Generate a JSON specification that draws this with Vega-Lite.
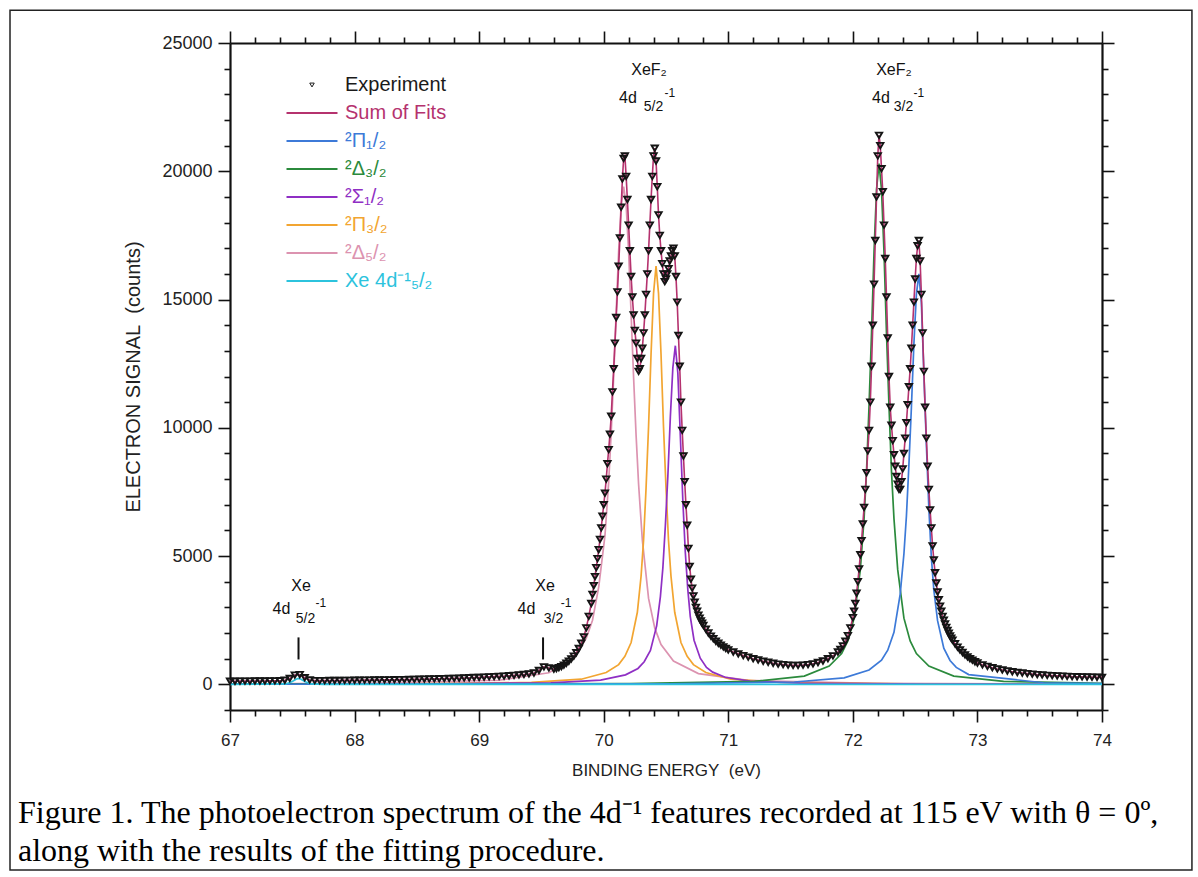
{
"$schema":"https://vega.github.io/schema/vega-lite/v6.json",
"width":872,"height":667,
"autosize":{"type":"none"},
"padding":{"left":230,"top":43,"right":96,"bottom":167},
"background":"white",
"config":{"view":{"stroke":null},"font":"Liberation Sans"},
"title":{"text":["Figure 1. The photoelectron spectrum of the 4d\u207b\u00b9 features recorded at 115 eV with \u03b8 = 0\u00ba,","along with the results of the fitting procedure."],"orient":"bottom","anchor":"start","frame":"group","font":"Liberation Serif","fontSize":32,"fontWeight":"normal","color":"black","lineHeight":38,"dx":-212,"dy":-87,"offset":14},
"datasets":{
"exp":[
{"x":67.00,"y":120},{"x":67.04,"y":120},{"x":67.08,"y":125},{"x":67.12,"y":125},{"x":67.16,"y":125},{"x":67.20,"y":130},{"x":67.24,"y":130},{"x":67.28,"y":130},{"x":67.32,"y":135},{"x":67.36,"y":135},{"x":67.40,"y":140},{"x":67.44,"y":160},{"x":67.48,"y":230},{"x":67.52,"y":360},{"x":67.56,"y":380},{"x":67.60,"y":260},{"x":67.64,"y":170},{"x":67.68,"y":145},{"x":67.72,"y":145},{"x":67.76,"y":145},{"x":67.80,"y":150},{"x":67.84,"y":150},{"x":67.88,"y":150},{"x":67.92,"y":155},{"x":67.96,"y":155},{"x":68.00,"y":160},{"x":68.04,"y":160},{"x":68.08,"y":165},{"x":68.12,"y":165},{"x":68.16,"y":170},{"x":68.20,"y":170},{"x":68.24,"y":175},{"x":68.28,"y":175},{"x":68.32,"y":180},{"x":68.36,"y":185},{"x":68.40,"y":185},{"x":68.44,"y":190},{"x":68.48,"y":195},{"x":68.52,"y":200},{"x":68.56,"y":205},{"x":68.60,"y":210},{"x":68.64,"y":215},{"x":68.68,"y":220},{"x":68.72,"y":225},{"x":68.76,"y":230},{"x":68.80,"y":235},{"x":68.84,"y":240},{"x":68.88,"y":250},{"x":68.92,"y":255},{"x":68.96,"y":265},{"x":69.00,"y":270},{"x":69.04,"y":280},{"x":69.08,"y":290},{"x":69.12,"y":300},{"x":69.16,"y":310},{"x":69.20,"y":320},{"x":69.24,"y":335},{"x":69.28,"y":350},{"x":69.32,"y":365},{"x":69.36,"y":385},{"x":69.40,"y":405},{"x":69.44,"y":440},{"x":69.48,"y":540},{"x":69.52,"y":680},{"x":69.56,"y":640},{"x":69.60,"y":590},
{"x":69.62,"y":615},{"x":69.64,"y":650},{"x":69.66,"y":690},{"x":69.68,"y":750},{"x":69.70,"y":820},{"x":69.72,"y":900},{"x":69.74,"y":990},{"x":69.76,"y":1100},{"x":69.78,"y":1230},{"x":69.80,"y":1400},{"x":69.82,"y":1600},{"x":69.84,"y":1850},{"x":69.86,"y":2200},{"x":69.88,"y":2650},{"x":69.90,"y":3150},
{"x":69.91,"y":3500},{"x":69.92,"y":3850},{"x":69.93,"y":4200},{"x":69.94,"y":4550},{"x":69.95,"y":4900},{"x":69.96,"y":5250},{"x":69.97,"y":5650},{"x":69.98,"y":6100},{"x":69.99,"y":6550},{"x":70.00,"y":7000},{"x":70.01,"y":7450},{"x":70.02,"y":8000},{"x":70.03,"y":8600},{"x":70.04,"y":9150},{"x":70.05,"y":9750},{"x":70.06,"y":10450},{"x":70.07,"y":11400},{"x":70.08,"y":12300},{"x":70.09,"y":13300},{"x":70.10,"y":14300},{"x":70.11,"y":15300},{"x":70.12,"y":16300},{"x":70.13,"y":17400},{"x":70.14,"y":18600},{"x":70.15,"y":19700},{"x":70.16,"y":20500},{"x":70.17,"y":20600},{"x":70.18,"y":19800},{"x":70.19,"y":18900},{"x":70.20,"y":17900},{"x":70.21,"y":16900},{"x":70.22,"y":15900},{"x":70.23,"y":15100},{"x":70.24,"y":14400},{"x":70.25,"y":13800},{"x":70.26,"y":13300},{"x":70.27,"y":12700},{"x":70.28,"y":12200},{"x":70.29,"y":12300},{"x":70.30,"y":12700},{"x":70.31,"y":13100},{"x":70.32,"y":13700},{"x":70.33,"y":14400},{"x":70.34,"y":15200},{"x":70.35,"y":16000},{"x":70.36,"y":16900},{"x":70.37,"y":17900},{"x":70.38,"y":18900},{"x":70.39,"y":19800},{"x":70.40,"y":20600},{"x":70.41,"y":20900},{"x":70.42,"y":20400},{"x":70.43,"y":19400},{"x":70.44,"y":18300},{"x":70.45,"y":17500},{"x":70.46,"y":16900},{"x":70.47,"y":16400},{"x":70.48,"y":16000},{"x":70.49,"y":15700},{"x":70.50,"y":15800},{"x":70.51,"y":16000},{"x":70.52,"y":16200},{"x":70.53,"y":16500},{"x":70.54,"y":16700},{"x":70.55,"y":16900},{"x":70.56,"y":17000},{"x":70.57,"y":16700},{"x":70.58,"y":15900},{"x":70.59,"y":14900},{"x":70.60,"y":13600},{"x":70.61,"y":12400},{"x":70.62,"y":11000},{"x":70.63,"y":9900},{"x":70.64,"y":8900},{"x":70.65,"y":7900},{"x":70.66,"y":7000},{"x":70.67,"y":6200},{"x":70.68,"y":5300},{"x":70.69,"y":4600},{"x":70.70,"y":4100},{"x":70.71,"y":3750},{"x":70.72,"y":3450},{"x":70.73,"y":3200},{"x":70.74,"y":3000},{"x":70.75,"y":2850},{"x":70.76,"y":2700},{"x":70.77,"y":2580},{"x":70.78,"y":2470},{"x":70.79,"y":2380},{"x":70.80,"y":2300},
{"x":70.82,"y":2150},{"x":70.84,"y":2000},{"x":70.86,"y":1880},{"x":70.88,"y":1780},{"x":70.90,"y":1680},{"x":70.92,"y":1600},{"x":70.94,"y":1530},{"x":70.96,"y":1460},{"x":70.98,"y":1400},{"x":71.00,"y":1340},
{"x":71.04,"y":1260},{"x":71.08,"y":1190},{"x":71.12,"y":1120},{"x":71.16,"y":1060},{"x":71.20,"y":1000},{"x":71.24,"y":950},{"x":71.28,"y":900},{"x":71.32,"y":860},{"x":71.36,"y":820},{"x":71.40,"y":790},{"x":71.44,"y":770},{"x":71.48,"y":750},{"x":71.52,"y":740},{"x":71.56,"y":740},{"x":71.60,"y":750},{"x":71.64,"y":770},{"x":71.68,"y":800},{"x":71.72,"y":850},{"x":71.76,"y":910},{"x":71.80,"y":1000},{"x":71.84,"y":1110},{"x":71.88,"y":1260},
{"x":71.90,"y":1360},{"x":71.92,"y":1500},{"x":71.94,"y":1680},{"x":71.96,"y":1900},{"x":71.98,"y":2200},{"x":72.00,"y":2600},
{"x":72.01,"y":2850},{"x":72.02,"y":3150},{"x":72.03,"y":3550},{"x":72.04,"y":4000},{"x":72.05,"y":4500},{"x":72.06,"y":5050},{"x":72.07,"y":5600},{"x":72.08,"y":6250},{"x":72.09,"y":6900},{"x":72.10,"y":7600},{"x":72.11,"y":8250},{"x":72.12,"y":9100},{"x":72.13,"y":9900},{"x":72.14,"y":11000},{"x":72.15,"y":12400},{"x":72.16,"y":14000},{"x":72.17,"y":15600},{"x":72.18,"y":17300},{"x":72.19,"y":19000},{"x":72.20,"y":20600},{"x":72.21,"y":21400},{"x":72.22,"y":21000},{"x":72.23,"y":20100},{"x":72.24,"y":19200},{"x":72.25,"y":17900},{"x":72.26,"y":16600},{"x":72.27,"y":15100},{"x":72.28,"y":13500},{"x":72.29,"y":12000},{"x":72.30,"y":10800},{"x":72.31,"y":10100},{"x":72.32,"y":9500},{"x":72.33,"y":8950},{"x":72.34,"y":8500},{"x":72.35,"y":8100},{"x":72.36,"y":7800},{"x":72.37,"y":7600},{"x":72.38,"y":7600},{"x":72.39,"y":7900},{"x":72.40,"y":8400},{"x":72.41,"y":9000},{"x":72.42,"y":9600},{"x":72.43,"y":10200},{"x":72.44,"y":10900},{"x":72.45,"y":11600},{"x":72.46,"y":12300},{"x":72.47,"y":13100},{"x":72.48,"y":14000},{"x":72.49,"y":14900},{"x":72.50,"y":15800},{"x":72.51,"y":16600},{"x":72.52,"y":17100},{"x":72.53,"y":17300},{"x":72.54,"y":16500},{"x":72.55,"y":15200},{"x":72.56,"y":13700},{"x":72.57,"y":12200},{"x":72.58,"y":10800},{"x":72.59,"y":9600},{"x":72.60,"y":8500},{"x":72.61,"y":7600},{"x":72.62,"y":6800},{"x":72.63,"y":6100},{"x":72.64,"y":5400},{"x":72.65,"y":4850},{"x":72.66,"y":4350},{"x":72.67,"y":3950},{"x":72.68,"y":3600},{"x":72.69,"y":3300},{"x":72.70,"y":3050},{"x":72.71,"y":2850},{"x":72.72,"y":2650},{"x":72.73,"y":2500},{"x":72.74,"y":2350},{"x":72.75,"y":2220},{"x":72.76,"y":2100},{"x":72.77,"y":1990},{"x":72.78,"y":1890},{"x":72.79,"y":1800},{"x":72.80,"y":1720},
{"x":72.82,"y":1580},{"x":72.84,"y":1450},{"x":72.86,"y":1340},{"x":72.88,"y":1240},{"x":72.90,"y":1150},{"x":72.92,"y":1070},{"x":72.94,"y":1000},{"x":72.96,"y":940},{"x":72.98,"y":880},{"x":73.00,"y":830},
{"x":73.04,"y":760},{"x":73.08,"y":700},{"x":73.12,"y":650},{"x":73.16,"y":600},{"x":73.20,"y":560},{"x":73.24,"y":520},{"x":73.28,"y":490},{"x":73.32,"y":460},{"x":73.36,"y":440},{"x":73.40,"y":420},{"x":73.44,"y":400},{"x":73.48,"y":380},{"x":73.52,"y":365},{"x":73.56,"y":350},{"x":73.60,"y":340},{"x":73.64,"y":330},{"x":73.68,"y":320},{"x":73.72,"y":310},{"x":73.76,"y":300},{"x":73.80,"y":295},{"x":73.84,"y":290},{"x":73.88,"y":285},{"x":73.92,"y":280},{"x":73.96,"y":275},{"x":74.00,"y":270}
],
"comp":[
{"s":"D52","x":67.0,"y":18},{"s":"D52","x":68.16,"y":45},{"s":"D52","x":69.16,"y":160},{"s":"D52","x":69.56,"y":450},{"s":"D52","x":69.76,"y":1000},{"s":"D52","x":69.86,"y":1800},{"s":"D52","x":69.91,"y":2500},{"s":"D52","x":69.96,"y":3800},{"s":"D52","x":70.01,"y":5800},{"s":"D52","x":70.04,"y":7900},{"s":"D52","x":70.06,"y":9800},{"s":"D52","x":70.08,"y":12000},{"s":"D52","x":70.10,"y":14500},{"s":"D52","x":70.12,"y":16900},{"s":"D52","x":70.14,"y":18700},{"s":"D52","x":70.16,"y":19400},{"s":"D52","x":70.18,"y":18700},{"s":"D52","x":70.20,"y":16860},{"s":"D52","x":70.22,"y":14430},{"s":"D52","x":70.24,"y":11950},{"s":"D52","x":70.26,"y":9700},{"s":"D52","x":70.28,"y":7800},{"s":"D52","x":70.31,"y":5630},{"s":"D52","x":70.36,"y":3350},{"s":"D52","x":70.41,"y":2190},{"s":"D52","x":70.46,"y":1550},{"s":"D52","x":70.56,"y":910},{"s":"D52","x":70.76,"y":420},{"s":"D52","x":71.16,"y":153},{"s":"D52","x":72.16,"y":39},{"s":"D52","x":74.0,"y":11},
{"s":"P32","x":67.0,"y":6},{"s":"P32","x":68.42,"y":18},{"s":"P32","x":69.42,"y":73},{"s":"P32","x":69.82,"y":200},{"s":"P32","x":70.02,"y":460},{"s":"P32","x":70.12,"y":770},{"s":"P32","x":70.17,"y":1090},{"s":"P32","x":70.22,"y":1630},{"s":"P32","x":70.27,"y":2810},{"s":"P32","x":70.30,"y":4220},{"s":"P32","x":70.32,"y":5620},{"s":"P32","x":70.34,"y":7660},{"s":"P32","x":70.36,"y":10040},{"s":"P32","x":70.38,"y":12880},{"s":"P32","x":70.40,"y":15240},{"s":"P32","x":70.42,"y":16300},{"s":"P32","x":70.44,"y":15240},{"s":"P32","x":70.46,"y":12880},{"s":"P32","x":70.48,"y":10040},{"s":"P32","x":70.50,"y":7660},{"s":"P32","x":70.52,"y":5620},{"s":"P32","x":70.54,"y":4220},{"s":"P32","x":70.57,"y":2810},{"s":"P32","x":70.62,"y":1630},{"s":"P32","x":70.67,"y":1090},{"s":"P32","x":70.72,"y":770},{"s":"P32","x":70.82,"y":460},{"s":"P32","x":71.02,"y":200},{"s":"P32","x":71.42,"y":73},{"s":"P32","x":72.42,"y":18},{"s":"P32","x":74.0,"y":6},
{"s":"S12","x":67.0,"y":5},{"s":"S12","x":68.575,"y":15},{"s":"S12","x":69.575,"y":59},{"s":"S12","x":69.975,"y":162},{"s":"S12","x":70.175,"y":370},{"s":"S12","x":70.275,"y":620},{"s":"S12","x":70.325,"y":880},{"s":"S12","x":70.375,"y":1320},{"s":"S12","x":70.425,"y":2280},{"s":"S12","x":70.455,"y":3420},{"s":"S12","x":70.475,"y":4550},{"s":"S12","x":70.495,"y":6200},{"s":"S12","x":70.515,"y":8130},{"s":"S12","x":70.535,"y":10430},{"s":"S12","x":70.555,"y":12340},{"s":"S12","x":70.575,"y":13200},{"s":"S12","x":70.595,"y":12140},{"s":"S12","x":70.615,"y":9700},{"s":"S12","x":70.635,"y":7190},{"s":"S12","x":70.655,"y":5150},{"s":"S12","x":70.675,"y":3700},{"s":"S12","x":70.695,"y":2640},{"s":"S12","x":70.725,"y":1720},{"s":"S12","x":70.775,"y":1020},{"s":"S12","x":70.825,"y":660},{"s":"S12","x":70.875,"y":475},{"s":"S12","x":70.975,"y":277},{"s":"S12","x":71.175,"y":123},{"s":"S12","x":71.575,"y":45},{"s":"S12","x":72.575,"y":11},{"s":"S12","x":74.0,"y":4},
{"s":"D32","x":67.0,"y":4},{"s":"D32","x":70.21,"y":30},{"s":"D32","x":71.21,"y":116},{"s":"D32","x":71.61,"y":320},{"s":"D32","x":71.81,"y":710},{"s":"D32","x":71.91,"y":1200},{"s":"D32","x":71.96,"y":1690},{"s":"D32","x":72.01,"y":2580},{"s":"D32","x":72.06,"y":4470},{"s":"D32","x":72.09,"y":6460},{"s":"D32","x":72.11,"y":8320},{"s":"D32","x":72.13,"y":10860},{"s":"D32","x":72.15,"y":13700},{"s":"D32","x":72.17,"y":16850},{"s":"D32","x":72.19,"y":19290},{"s":"D32","x":72.21,"y":20300},{"s":"D32","x":72.23,"y":19290},{"s":"D32","x":72.25,"y":16850},{"s":"D32","x":72.27,"y":13700},{"s":"D32","x":72.29,"y":10860},{"s":"D32","x":72.31,"y":8320},{"s":"D32","x":72.33,"y":6460},{"s":"D32","x":72.36,"y":4470},{"s":"D32","x":72.41,"y":2580},{"s":"D32","x":72.46,"y":1690},{"s":"D32","x":72.51,"y":1200},{"s":"D32","x":72.61,"y":710},{"s":"D32","x":72.81,"y":320},{"s":"D32","x":73.21,"y":116},{"s":"D32","x":74.0,"y":37},
{"s":"P12","x":67.0,"y":3},{"s":"P12","x":70.53,"y":24},{"s":"P12","x":71.53,"y":91},{"s":"P12","x":71.93,"y":251},{"s":"P12","x":72.13,"y":560},{"s":"P12","x":72.23,"y":944},{"s":"P12","x":72.28,"y":1330},{"s":"P12","x":72.33,"y":2030},{"s":"P12","x":72.38,"y":3520},{"s":"P12","x":72.41,"y":5090},{"s":"P12","x":72.43,"y":6560},{"s":"P12","x":72.45,"y":8560},{"s":"P12","x":72.47,"y":10800},{"s":"P12","x":72.49,"y":13280},{"s":"P12","x":72.51,"y":15200},{"s":"P12","x":72.53,"y":16000},{"s":"P12","x":72.55,"y":14880},{"s":"P12","x":72.57,"y":12160},{"s":"P12","x":72.59,"y":9360},{"s":"P12","x":72.61,"y":6880},{"s":"P12","x":72.63,"y":4960},{"s":"P12","x":72.65,"y":3680},{"s":"P12","x":72.68,"y":2480},{"s":"P12","x":72.73,"y":1410},{"s":"P12","x":72.78,"y":930},{"s":"P12","x":72.83,"y":660},{"s":"P12","x":72.93,"y":380},{"s":"P12","x":73.53,"y":62},{"s":"P12","x":74.0,"y":29},
{"s":"Xe","x":67.0,"y":0},{"s":"Xe","x":67.45,"y":15},{"s":"Xe","x":67.5,"y":110},{"s":"Xe","x":67.53,"y":200},{"s":"Xe","x":67.55,"y":230},{"s":"Xe","x":67.57,"y":200},{"s":"Xe","x":67.6,"y":110},{"s":"Xe","x":67.65,"y":15},{"s":"Xe","x":67.75,"y":0},{"s":"Xe","x":74.0,"y":0}
],
"annMain":[{"x":70.364,"y":23950,"t":"XeF\u2082"},{"x":70.195,"y":22850,"t":"4d"},{"x":72.33,"y":23950,"t":"XeF\u2082"},{"x":72.226,"y":22850,"t":"4d"},{"x":67.57,"y":3815,"t":"Xe"},{"x":67.413,"y":2920,"t":"4d"},{"x":69.529,"y":3815,"t":"Xe"},{"x":69.38,"y":2920,"t":"4d"}],
"annSub":[{"x":70.40,"y":22500,"t":"5/2"},{"x":72.407,"y":22500,"t":"3/2"},{"x":67.606,"y":2530,"t":"5/2"},{"x":69.597,"y":2530,"t":"3/2"}],
"annSup":[{"x":70.53,"y":23050,"t":"-1"},{"x":72.53,"y":23050,"t":"-1"},{"x":67.73,"y":3190,"t":"-1"},{"x":69.697,"y":3190,"t":"-1"}],
"marks":[{"x":67.55,"y":970,"y2":1830},{"x":69.513,"y":970,"y2":1830}]
},
"resolve":{"axis":{"x":"independent","y":"independent"}},
"layer":[
{"data":{"values":[{}]},
 "mark":{"type":"rect","filled":false,"stroke":"#222","strokeWidth":1.5},
 "encoding":{
  "x":{"datum":65.234,"type":"quantitative","scale":{"domain":[67,74],"nice":false,"zero":false},"axis":null},
  "x2":{"datum":74.722},
  "y":{"datum":26279,"type":"quantitative","scale":{"domain":[-1000,25000],"nice":false,"zero":false},"axis":null},
  "y2":{"datum":-7241}}},
{"data":{"name":"comp"},
 "mark":{"type":"line","strokeWidth":1.7},
 "encoding":{
  "x":{"field":"x","type":"quantitative","scale":{"domain":[67,74],"nice":false,"zero":false},
   "axis":{"orient":"bottom","values":[67,67.2,67.4,67.6,67.8,68,68.2,68.4,68.6,68.8,69,69.2,69.4,69.6,69.8,70,70.2,70.4,70.6,70.8,71,71.2,71.4,71.6,71.8,72,72.2,72.4,72.6,72.8,73,73.2,73.4,73.6,73.8,74],
    "labelExpr":"abs(datum.value-round(datum.value))<0.01 ? format(datum.value,'d') : ''",
    "tickSize":{"condition":{"test":"abs(datum.value-round(datum.value))<0.01","value":12},"value":6},
    "tickColor":"#111","tickWidth":1.6,"domainColor":"#111","domainWidth":2.2,"grid":false,
    "labelFont":"Liberation Sans","labelFontSize":17,"labelColor":"#222","labelPadding":10,"labelFlush":false,
    "title":"BINDING ENERGY\u00a0\u00a0(eV)","titleFont":"Liberation Sans","titleFontSize":17,"titleFontWeight":"normal","titleColor":"#222","titlePadding":14}},
  "y":{"field":"y","type":"quantitative","scale":{"domain":[-1000,25000],"nice":false,"zero":false},
   "axis":{"orient":"left","values":[-1000,0,1000,2000,3000,4000,5000,6000,7000,8000,9000,10000,11000,12000,13000,14000,15000,16000,17000,18000,19000,20000,21000,22000,23000,24000,25000],
    "labelExpr":"datum.value % 5000 === 0 ? format(datum.value,'d') : ''",
    "tickSize":{"condition":{"test":"datum.value % 5000 === 0","value":12},"value":6},
    "tickColor":"#111","tickWidth":1.6,"domainColor":"#111","domainWidth":2.2,"grid":false,
    "labelFont":"Liberation Sans","labelFontSize":18,"labelColor":"#222","labelPadding":6,"labelFlush":false,
    "title":"ELECTRON SIGNAL\u00a0\u00a0(counts)","titleFont":"Liberation Sans","titleFontSize":20,"titleFontWeight":"normal","titleColor":"#222","titlePadding":18}},
  "color":{"field":"s","type":"nominal",
   "scale":{"domain":["E","S","P12","D32","S12","P32","D52","Xe"],"range":["#1a1a1a","#b5326e","#3d7ad8","#2b8a3c","#8f2fc4","#f2a531","#dc93b0","#2cc3dd"]},
   "legend":{"orient":"none","legendX":72,"legendY":32,"title":null,"symbolType":"stroke","symbolSize":2600,"symbolStrokeWidth":2,"labelFont":"Liberation Sans","labelFontSize":20,"labelOffset":23,"rowPadding":8,
    "labelExpr":"{'E':'Experiment','S':'Sum of Fits','P12':'\u00b2\u03a0\u2081/\u2082','D32':'\u00b2\u0394\u2083/\u2082','S12':'\u00b2\u03a3\u2081/\u2082','P32':'\u00b2\u03a0\u2083/\u2082','D52':'\u00b2\u0394\u2085/\u2082','Xe':'Xe 4d\u207b\u00b9\u2085/\u2082'}[datum.label]",
    "encode":{"labels":{"update":{"fill":{"scale":"color","field":"value"}}},
     "symbols":{"update":{"shape":{"signal":"datum.value === 'E' ? 'triangle-down' : 'stroke'"},"size":{"signal":"datum.value === 'E' ? 20 : 2600"},"strokeWidth":{"signal":"datum.value === 'E' ? 1 : 2"}}}}}},
  "detail":{"field":"s"}}},
{"data":{"name":"exp"},
 "mark":{"type":"line","color":"#b5326e","strokeWidth":1.6},
 "encoding":{
  "x":{"field":"x","type":"quantitative","scale":{"domain":[67,74],"nice":false,"zero":false},
   "axis":{"orient":"top","values":[67,67.2,67.4,67.6,67.8,68,68.2,68.4,68.6,68.8,69,69.2,69.4,69.6,69.8,70,70.2,70.4,70.6,70.8,71,71.2,71.4,71.6,71.8,72,72.2,72.4,72.6,72.8,73,73.2,73.4,73.6,73.8,74],"labels":false,
    "tickSize":{"condition":{"test":"abs(datum.value-round(datum.value))<0.01","value":12},"value":6},
    "tickColor":"#111","tickWidth":1.6,"domainColor":"#111","domainWidth":2.2,"grid":false,"title":null}},
  "y":{"field":"y","type":"quantitative","scale":{"domain":[-1000,25000],"nice":false,"zero":false},
   "axis":{"orient":"right","values":[-1000,0,1000,2000,3000,4000,5000,6000,7000,8000,9000,10000,11000,12000,13000,14000,15000,16000,17000,18000,19000,20000,21000,22000,23000,24000,25000],"labels":false,
    "tickSize":{"condition":{"test":"datum.value % 5000 === 0","value":12},"value":6},
    "tickColor":"#111","tickWidth":1.6,"domainColor":"#111","domainWidth":2.2,"grid":false,"title":null}}}},
{"data":{"name":"exp"},
 "mark":{"type":"point","shape":"triangle-down","filled":false,"stroke":"#151515","strokeWidth":1.9,"size":40,"opacity":1},
 "encoding":{
  "x":{"field":"x","type":"quantitative","scale":{"domain":[67,74],"nice":false,"zero":false},"axis":null},
  "y":{"field":"y","type":"quantitative","scale":{"domain":[-1000,25000],"nice":false,"zero":false},"axis":null}}},
{"data":{"name":"marks"},
 "mark":{"type":"rule","color":"#111","strokeWidth":2},
 "encoding":{
  "x":{"field":"x","type":"quantitative","scale":{"domain":[67,74],"nice":false,"zero":false},"axis":null},
  "y":{"field":"y","type":"quantitative","scale":{"domain":[-1000,25000],"nice":false,"zero":false},"axis":null},
  "y2":{"field":"y2"}}},
{"data":{"name":"annMain"},
 "mark":{"type":"text","font":"Liberation Sans","fontSize":16,"color":"#111","align":"center","baseline":"middle"},
 "encoding":{
  "x":{"field":"x","type":"quantitative","scale":{"domain":[67,74],"nice":false,"zero":false},"axis":null},
  "y":{"field":"y","type":"quantitative","scale":{"domain":[-1000,25000],"nice":false,"zero":false},"axis":null},
  "text":{"field":"t"}}},
{"data":{"name":"annSub"},
 "mark":{"type":"text","font":"Liberation Sans","fontSize":14,"color":"#111","align":"center","baseline":"middle"},
 "encoding":{
  "x":{"field":"x","type":"quantitative","scale":{"domain":[67,74],"nice":false,"zero":false},"axis":null},
  "y":{"field":"y","type":"quantitative","scale":{"domain":[-1000,25000],"nice":false,"zero":false},"axis":null},
  "text":{"field":"t"}}},
{"data":{"name":"annSup"},
 "mark":{"type":"text","font":"Liberation Sans","fontSize":12,"color":"#111","align":"center","baseline":"middle"},
 "encoding":{
  "x":{"field":"x","type":"quantitative","scale":{"domain":[67,74],"nice":false,"zero":false},"axis":null},
  "y":{"field":"y","type":"quantitative","scale":{"domain":[-1000,25000],"nice":false,"zero":false},"axis":null},
  "text":{"field":"t"}}}
]
}
